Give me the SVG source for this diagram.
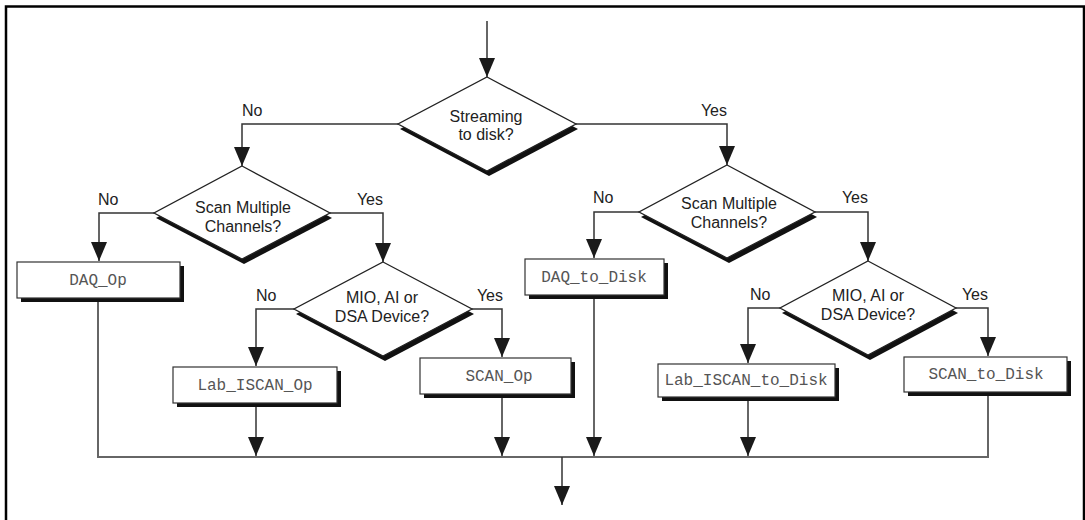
<svg xmlns="http://www.w3.org/2000/svg" width="1085" height="520" viewBox="0 0 1085 520">
<defs>
<style>
.frame{fill:none;stroke:#000;stroke-width:2.5}
.dia{fill:#fff;stroke:#222;stroke-width:1.3}
.dsh{fill:#111;stroke:none}
.box{fill:#fff;stroke:#333;stroke-width:1.2}
.bsh{fill:#111;stroke:none}
.ln{fill:none;stroke:#333;stroke-width:1.5}
.bus{fill:none;stroke:#666;stroke-width:2}
.dt{font-family:"Liberation Sans",Arial,sans-serif;font-size:16px;fill:#222;text-anchor:middle}
.lb{font-family:"Liberation Sans",Arial,sans-serif;font-size:16px;fill:#222}
.bt{font-family:"Liberation Mono","Courier New",monospace;font-size:16px;fill:#555;text-anchor:middle}
</style>
<marker id="ah" viewBox="0 0 19 16" refX="19" refY="8" markerWidth="19" markerHeight="16" markerUnits="userSpaceOnUse" orient="auto">
<path d="M0,0 L19,8 L0,16 z" fill="#1a1a1a"/>
</marker>
</defs>
<rect x="0" y="0" width="1085" height="520" fill="#fff"/>
<rect class="frame" x="6" y="6.5" width="1078" height="540"/>

<g id="connectors">
<line class="ln" x1="487" y1="21" x2="487" y2="77" marker-end="url(#ah)"/>
<polyline class="ln" points="398,124 242,124 242,166" marker-end="url(#ah)"/>
<polyline class="ln" points="576,124 727,124 727,165" marker-end="url(#ah)"/>
<polyline class="ln" points="154,213 99,213 99,261" marker-end="url(#ah)"/>
<polyline class="ln" points="330,213 383,213 383,262" marker-end="url(#ah)"/>
<polyline class="ln" points="294,309 256,309 256,366" marker-end="url(#ah)"/>
<polyline class="ln" points="472,309 502,309 502,357" marker-end="url(#ah)"/>
<polyline class="ln" points="639,212 594,212 594,258" marker-end="url(#ah)"/>
<polyline class="ln" points="815,212 868,212 868,261" marker-end="url(#ah)"/>
<polyline class="ln" points="780,308 748,308 748,363" marker-end="url(#ah)"/>
<polyline class="ln" points="956,308 988,308 988,356" marker-end="url(#ah)"/>
<line class="bus" x1="98" y1="302" x2="98" y2="457"/>
<line class="ln" x1="256" y1="407" x2="256" y2="456" marker-end="url(#ah)"/>
<line class="ln" x1="502" y1="398" x2="502" y2="456" marker-end="url(#ah)"/>
<line class="ln" x1="594" y1="299" x2="594" y2="456" marker-end="url(#ah)"/>
<line class="ln" x1="748" y1="401" x2="748" y2="456" marker-end="url(#ah)"/>
<line class="bus" x1="988" y1="396" x2="988" y2="457"/>
<polyline class="bus" points="97,457 989,457"/>
<line class="ln" x1="562" y1="457" x2="562" y2="505" marker-end="url(#ah)"/>
<text class="lb" x="242" y="116">No</text>
<text class="lb" x="727" y="116" text-anchor="end">Yes</text>
<text class="lb" x="98" y="205">No</text>
<text class="lb" x="383" y="205" text-anchor="end">Yes</text>
<text class="lb" x="256" y="301">No</text>
<text class="lb" x="503" y="301" text-anchor="end">Yes</text>
<text class="lb" x="593" y="203">No</text>
<text class="lb" x="868" y="203" text-anchor="end">Yes</text>
<text class="lb" x="750" y="300">No</text>
<text class="lb" x="988" y="300" text-anchor="end">Yes</text>
</g>

<g id="d1">
<polygon class="dsh" points="489,82 578,129 489,176 400,129"/>
<polygon class="dia" points="487,77 576,124 487,171 398,124"/>
<text class="dt" x="486" y="122">Streaming</text>
<text class="dt" x="486" y="140">to disk?</text>
</g>

<g id="d2">
<polygon class="dsh" points="244,171 332,218 244,264 156,218"/>
<polygon class="dia" points="242,166 330,213 242,259 154,213"/>
<text class="dt" x="243" y="213">Scan Multiple</text>
<text class="dt" x="243" y="232">Channels?</text>
</g>

<g id="d3">
<polygon class="dsh" points="729,170 817,217 729,263 641,217"/>
<polygon class="dia" points="727,165 815,212 727,258 639,212"/>
<text class="dt" x="729" y="209">Scan Multiple</text>
<text class="dt" x="729" y="228">Channels?</text>
</g>

<g id="d4">
<polygon class="dsh" points="385,267 474,314 385,361 296,314"/>
<polygon class="dia" points="383,262 472,309 383,356 294,309"/>
<text class="dt" x="382" y="303">MIO, AI or</text>
<text class="dt" x="382" y="322">DSA Device?</text>
</g>

<g id="d5">
<polygon class="dsh" points="870,266 958,313 870,360 782,313"/>
<polygon class="dia" points="868,261 956,308 868,355 780,308"/>
<text class="dt" x="868" y="301">MIO, AI or</text>
<text class="dt" x="868" y="320">DSA Device?</text>
</g>

<g id="daq_op">
<rect class="bsh" x="21" y="266" width="163" height="36"/>
<rect class="box" x="17" y="262" width="163" height="36"/>
<text class="bt" x="98" y="285">DAQ_Op</text>
</g>

<g id="lab_iscan_op">
<rect class="bsh" x="177" y="371" width="164" height="36"/>
<rect class="box" x="173" y="367" width="164" height="36"/>
<text class="bt" x="255" y="390">Lab_ISCAN_Op</text>
</g>

<g id="scan_op">
<rect class="bsh" x="424" y="362" width="151" height="36"/>
<rect class="box" x="420" y="358" width="151" height="36"/>
<text class="bt" x="499" y="381">SCAN_Op</text>
</g>

<g id="daq_to_disk">
<rect class="bsh" x="529" y="263" width="139" height="36"/>
<rect class="box" x="525" y="259" width="139" height="36"/>
<text class="bt" x="594" y="282">DAQ_to_Disk</text>
</g>

<g id="lab_iscan_to_disk">
<rect class="bsh" x="662" y="368" width="177" height="33"/>
<rect class="box" x="658" y="364" width="177" height="33"/>
<text class="bt" x="746" y="385">Lab_ISCAN_to_Disk</text>
</g>

<g id="scan_to_disk">
<rect class="bsh" x="908" y="361" width="163" height="35"/>
<rect class="box" x="904" y="357" width="163" height="35"/>
<text class="bt" x="986" y="379">SCAN_to_Disk</text>
</g>
</svg>
